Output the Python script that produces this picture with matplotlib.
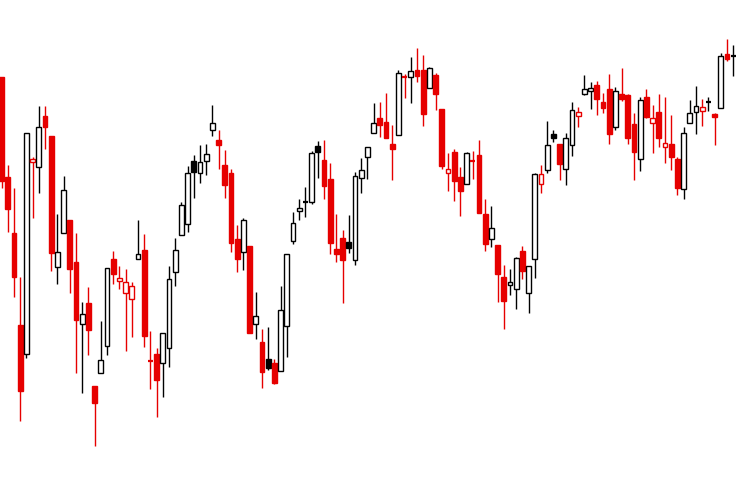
import matplotlib
matplotlib.use("Agg")
import matplotlib.pyplot as plt
from matplotlib.patches import Rectangle

# OHLC (arbitrary price units)
opens = [409, 309, 253, 161, 132, 324, 319, 370, 350, 219,
         253, 266, 224, 162, 183, 100, 113, 140, 227, 205,
         193, 187, 227, 236, 125, 132, 123, 138, 214, 251,
         262, 325, 313, 325, 356, 346, 321, 313, 247, 234,
         240, 162, 144, 127, 123, 115, 160, 245, 275, 284,
         284, 340, 326, 307, 237, 248, 244, 226, 308, 329,
         353, 368, 364, 342, 351, 409, 409, 416, 416, 398,
         411, 377, 313, 334, 309, 302, 325, 331, 272, 247,
         241, 209, 201, 197, 235, 193, 227, 302, 316, 352,
         342, 317, 341, 370, 392, 395, 401, 384, 397, 359,
         392, 391, 362, 327, 389, 363, 374, 339, 342, 327,
         297, 363, 374, 375, 384, 372, 378, 432, 430]
highs = [409, 321, 298, 209, 353, 329, 380, 380, 350, 272,
         310, 266, 253, 184, 199, 100, 165, 218, 235, 220,
         217, 204, 266, 252, 155, 138, 153, 220, 248, 284,
         320, 331, 341, 342, 381, 356, 336, 317, 261, 268,
         240, 194, 157, 159, 127, 200, 232, 274, 287, 299,
         335, 345, 346, 323, 272, 256, 271, 314, 328, 339,
         383, 384, 393, 361, 416, 412, 429, 438, 431, 419,
         413, 377, 333, 337, 319, 334, 335, 346, 287, 280,
         241, 221, 217, 229, 240, 220, 313, 321, 365, 356,
         342, 353, 384, 379, 411, 404, 405, 393, 412, 399,
         418, 392, 373, 389, 397, 381, 392, 389, 371, 329,
         359, 386, 400, 387, 389, 373, 433, 447, 441]
lows = [298, 254, 189, 65, 128, 268, 293, 337, 215, 202,
        253, 193, 113, 93, 131, 40, 113, 131, 202, 197,
        135, 149, 227, 139, 97, 69, 89, 119, 200, 251,
        254, 288, 303, 311, 350, 317, 288, 234, 214, 216,
        153, 147, 98, 116, 102, 115, 129, 242, 266, 269,
        282, 308, 287, 232, 224, 183, 233, 221, 293, 307,
        353, 349, 348, 306, 351, 388, 383, 404, 360, 398,
        376, 317, 295, 285, 270, 302, 307, 273, 235, 239,
        184, 157, 191, 177, 207, 173, 208, 293, 313, 344,
        306, 301, 330, 359, 391, 377, 371, 373, 342, 356,
        385, 342, 306, 315, 368, 333, 339, 323, 316, 291,
        287, 363, 352, 360, 375, 341, 378, 425, 410]
closes = [305, 277, 209, 95, 353, 327, 359, 359, 233, 234,
          296, 217, 166, 172, 156, 83, 126, 218, 212, 208,
          204, 200, 232, 150, 125, 106, 153, 207, 236, 281,
          313, 314, 324, 332, 363, 341, 301, 243, 227, 266,
          153, 170, 114, 118, 103, 176, 232, 263, 278, 284,
          333, 334, 300, 243, 232, 226, 238, 310, 316, 339,
          363, 361, 348, 337, 413, 409, 415, 410, 372, 418,
          392, 320, 317, 305, 295, 333, 325, 273, 242, 258,
          212, 185, 204, 228, 215, 220, 312, 312, 341, 348,
          322, 348, 376, 374, 397, 398, 387, 378, 352, 395,
          387, 348, 334, 386, 369, 368, 348, 343, 329, 298,
          353, 373, 380, 379, 384, 369, 430, 427, 430]
# trend state of each bar: U = up (black), D = down (red)
trend = ("DDDDUDUDDU" "UDDUDDUUDD" "DDUDDDUUUU" "UUUUUDDDDU"
         "DUDUDUUUUU" "UUDDDDUUUU" "UDDDUDUDDU" "DDDDDUDDDU"
         "DDUUDUUDUU" "DUUDUUDDDU" "DDDUDDDDDD" "UUUDUDUDU")

red = "#e60000"
width = 0.78

fig = plt.figure(figsize=(7.49, 4.86), dpi=100)
ax = fig.add_axes([0, 0, 1, 1])

for i in range(len(opens)):
    o, h, l, c = opens[i], highs[i], lows[i], closes[i]
    col = "black" if trend[i] == "U" else red
    ax.vlines(i, l, h, color=col, linewidth=1.0, zorder=1)
    if o == c:
        ax.hlines(c, i - width / 2, i + width / 2, color=col,
                  linewidth=1.6, zorder=2)
        continue
    face = "white" if c > o else col
    ax.add_patch(Rectangle((i - width / 2, min(o, c)), width, abs(c - o),
                           facecolor=face, edgecolor=col, linewidth=1.0,
                           zorder=2))

ax.set_xlim(-0.25, -0.25 + 749 / 6.2)
ax.set_ylim(0, 486)
ax.axis("off")

fig.savefig("out.png", dpi=100)
